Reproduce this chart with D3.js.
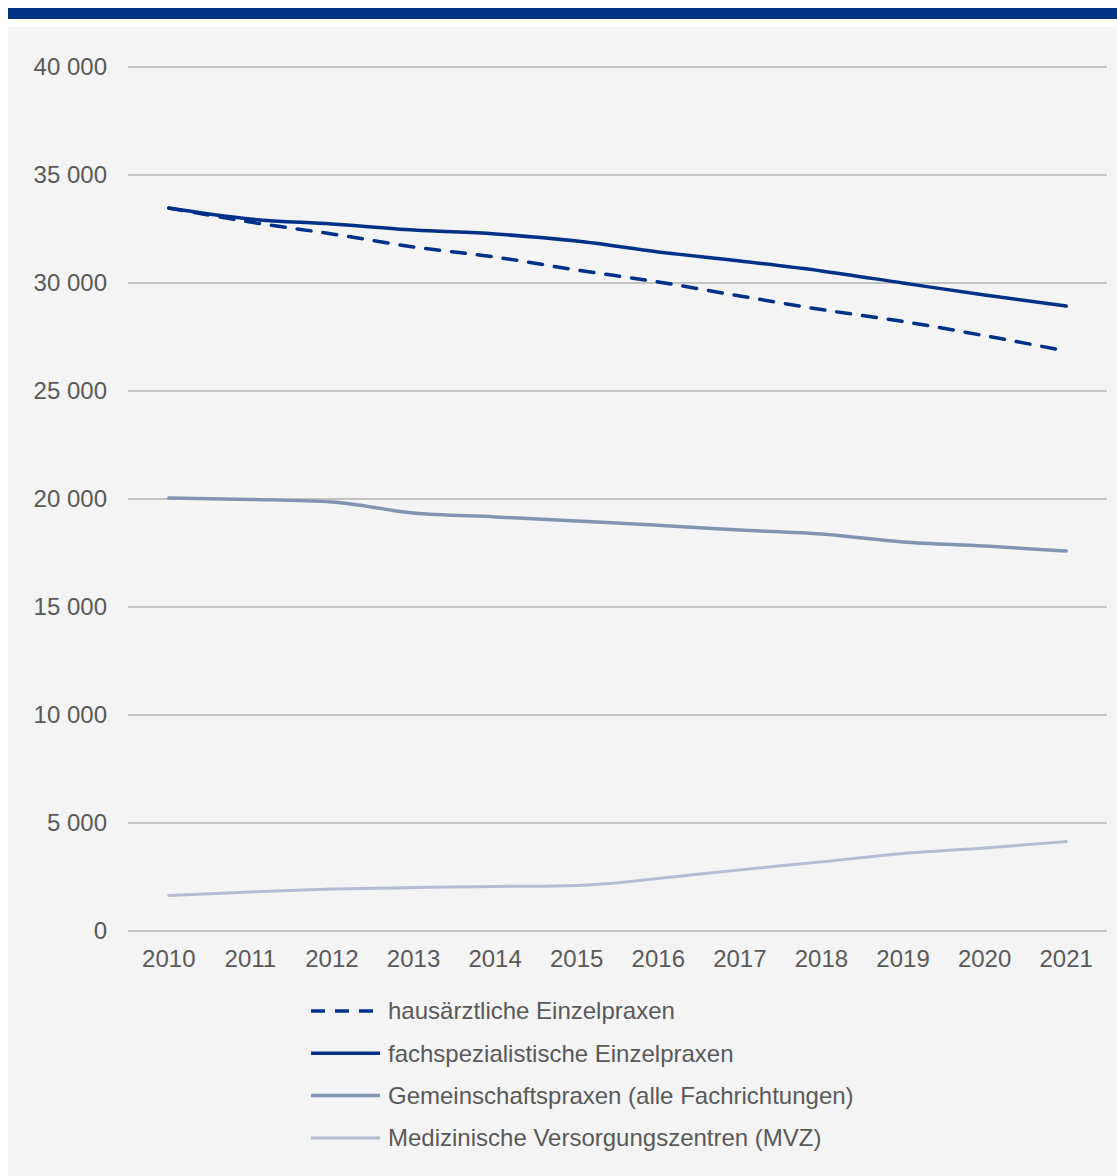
<!DOCTYPE html>
<html lang="de">
<head>
  <meta charset="utf-8">
  <title>Praxen 2010-2021</title>
  <script src="https://cdn.jsdelivr.net/npm/d3@7"></script>
  <style>
    html, body { margin: 0; padding: 0; background: #fff; }
    text { font-family: "Liberation Sans", Arial, sans-serif; fill: #595959; }
  </style>
</head>
<body>
  <script>
  // Daten
  var years = [2010, 2011, 2012, 2013, 2014, 2015, 2016, 2017, 2018, 2019, 2020, 2021];
  var hausarzt = [33470, 32820, 32270, 31670, 31200, 30600, 30050, 29400, 28770, 28220, 27560, 26850];
  var fachspez = [33470, 32960, 32730, 32450, 32270, 31940, 31440, 31020, 30560, 30000, 29440, 28940];
  var gemeinschaft = [20050, 19980, 19860, 19350, 19170, 18980, 18780, 18560, 18380, 18010, 17820, 17590];
  var mvz = [1640, 1810, 1940, 2010, 2060, 2110, 2430, 2830, 3200, 3590, 3840, 4140];
  var yTicks = [0, 5000, 10000, 15000, 20000, 25000, 30000, 35000, 40000];
  var seriesNames = [
    "hausärztliche Einzelpraxen",
    "fachspezialistische Einzelpraxen",
    "Gemeinschaftspraxen (alle Fachrichtungen)",
    "Medizinische Versorgungszentren (MVZ)"
  ];

  var series = [
    { name: seriesNames[0], values: hausarzt, color: "#003087", width: 3.5, dash: "14,12" },
    { name: seriesNames[1], values: fachspez, color: "#003087", width: 3.5, dash: null },
    { name: seriesNames[2], values: gemeinschaft, color: "#8292b3", width: 3.5, dash: null },
    { name: seriesNames[3], values: mvz, color: "#b3bcd1", width: 3, dash: null }
  ];

  var W = 1117, H = 1176;
  var svg = d3.select("body").append("svg")
    .attr("width", W)
    .attr("height", H);

  // Kopfbalken und Hintergrund
  svg.append("rect").attr("x", 8).attr("y", 8).attr("width", W - 8).attr("height", 11).attr("fill", "#003380");
  svg.append("rect").attr("x", 8).attr("y", 27).attr("width", W - 8).attr("height", H - 27).attr("fill", "#f4f4f4");

  var x = d3.scalePoint().domain(years).range([128, 1107]).padding(0.5);
  var y = d3.scaleLinear().domain([0, 40000]).range([931, 67]);

  var fmt = function(v) { return d3.format(",")(v).replace(/,/g, " "); };

  // Gitterlinien
  svg.append("g")
    .selectAll("line")
    .data(yTicks)
    .enter().append("line")
    .attr("x1", 128).attr("x2", 1107)
    .attr("y1", d => y(d)).attr("y2", d => y(d))
    .attr("stroke", "#c3c3c3")
    .attr("stroke-width", 2);

  // Achsenbeschriftung Y
  svg.append("g")
    .selectAll("text")
    .data(yTicks)
    .enter().append("text")
    .attr("x", 107)
    .attr("y", d => y(d))
    .attr("dy", "0.35em")
    .attr("text-anchor", "end")
    .attr("font-size", "24px")
    .text(d => fmt(d));

  // Achsenbeschriftung X
  svg.append("g")
    .selectAll("text")
    .data(years)
    .enter().append("text")
    .attr("x", d => x(d))
    .attr("y", 959)
    .attr("dy", "0.35em")
    .attr("text-anchor", "middle")
    .attr("font-size", "24px")
    .text(d => d);

  var line = d3.line()
    .x((d, i) => x(years[i]))
    .y(d => y(d))
    .curve(d3.curveMonotoneX);

  // Linien (MVZ zuerst, damit die dunklen oben liegen)
  svg.append("g")
    .selectAll("path")
    .data(series.slice().reverse())
    .enter().append("path")
    .attr("d", d => line(d.values))
    .attr("fill", "none")
    .attr("stroke", d => d.color)
    .attr("stroke-width", d => d.width)
    .attr("stroke-dasharray", d => d.dash)
    .attr("stroke-linecap", "round");

  // Legende
  var legend = svg.append("g")
    .selectAll("g")
    .data(series)
    .enter().append("g")
    .attr("transform", (d, i) => "translate(311," + (1011 + i * 42.3) + ")");

  legend.append("line")
    .attr("x1", 0).attr("x2", 69)
    .attr("stroke", d => d.color)
    .attr("stroke-width", d => d.width)
    .attr("stroke-dasharray", d => d.dash ? "14,10" : null);

  legend.append("text")
    .attr("x", 77)
    .attr("dy", "0.35em")
    .attr("font-size", "24px")
    .text(d => d.name);
  </script>
</body>
</html>
